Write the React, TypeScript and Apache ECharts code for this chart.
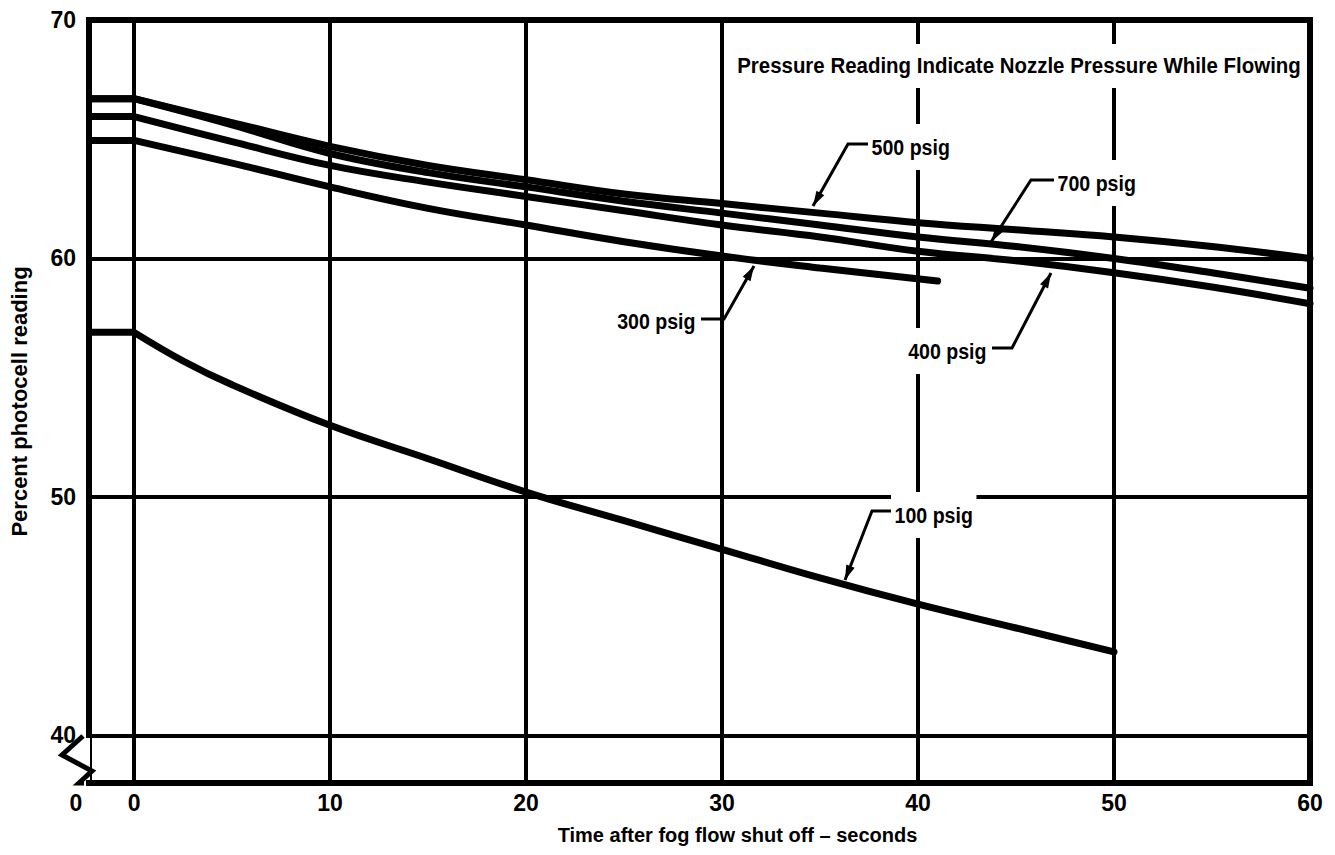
import React, { useEffect, useRef } from "react";
import * as echarts from "echarts";

// ---- data ----
const xLeftEdge = -2.3; // pre-shut-off region left edge
const times = [-2.3, 0, 5, 10, 15, 20, 25, 30, 35, 40, 45, 50, 55, 60];
const p500 = [66.7, 66.7, 65.7, 64.7, 63.9, 63.3, 62.7, 62.3, 61.9, 61.5, 61.2, 60.9, 60.5, 60.0];
const p700 = [66.7, 66.7, 65.6, 64.4, 63.6, 63.0, 62.4, 61.9, 61.4, 60.9, 60.5, 60.0, 59.4, 58.75];
const p400 = [65.95, 65.95, 64.9, 63.9, 63.2, 62.6, 62.0, 61.4, 60.9, 60.3, 59.9, 59.4, 58.8, 58.1];
const times300 = [-2.3, 0, 5, 10, 15, 20, 25, 30, 35, 41];
const p300 = [64.95, 64.95, 64.0, 63.0, 62.1, 61.4, 60.7, 60.1, 59.6, 59.05];
const times100 = [-2.3, 0, 2.5, 5, 10, 15, 20, 25, 30, 35, 40, 45, 50];
const p100 = [56.9, 56.9, 55.7, 54.7, 53.0, 51.6, 50.2, 49.0, 47.8, 46.6, 45.5, 44.5, 43.5];

const yMin = 38;
const yMax = 70;
const xMax = 60;

const seriesNames = ["500 psig", "700 psig", "400 psig", "300 psig", "100 psig"];
const noteText = "Pressure Reading Indicate Nozzle Pressure While Flowing";
const xTitle = "Time after fog flow shut off \u2013 seconds";
const yTitle = "Percent photocell reading";

const FONT = "'Liberation Sans', Arial, sans-serif";

type Pt = [number, number];
const annotations: { text: string; tx: number; ty: number; align: "left" | "right"; hook: Pt; elbow: Pt; tip: Pt }[] = [
  { text: "500 psig", tx: 868, ty: 147, align: "left", hook: [868, 144], elbow: [848, 144], tip: [813, 206] },
  { text: "700 psig", tx: 1054, ty: 183, align: "left", hook: [1054, 180], elbow: [1031, 180], tip: [991, 242] },
  { text: "400 psig", tx: 990, ty: 351, align: "right", hook: [992, 348], elbow: [1012, 348], tip: [1051, 273] },
  { text: "300 psig", tx: 699, ty: 321, align: "right", hook: [701, 319], elbow: [724, 319], tip: [754, 266] },
  { text: "100 psig", tx: 891, ty: 515, align: "left", hook: [891, 511], elbow: [872, 511], tip: [845, 580] },
];

function zip(xs: number[], ys: number[]) {
  return xs.map((x, i) => [x, ys[i]]);
}

function arrowHead(from: Pt, tip: Pt) {
  const dx = tip[0] - from[0];
  const dy = tip[1] - from[1];
  const len = Math.hypot(dx, dy);
  const ux = dx / len;
  const uy = dy / len;
  const L = 15;
  const W = 4.5;
  const bx = tip[0] - ux * L;
  const by = tip[1] - uy * L;
  return [
    [tip[0], tip[1]],
    [bx - uy * W, by + ux * W],
    [bx + uy * W, by - ux * W],
  ];
}

export default function App() {
  const ref = useRef<HTMLDivElement>(null);
  useEffect(() => {
    if (!ref.current) return;
    const chart = echarts.init(ref.current, null, { renderer: "svg" });

    const all = [
      zip(times, p500),
      zip(times, p700),
      zip(times, p400),
      zip(times300, p300),
      zip(times100, p100),
    ];
    const lineSeries: any[] = [];
    all.forEach((d, i) => {
      // flat reading before shut-off (straight)
      lineSeries.push({
        name: seriesNames[i],
        type: "line",
        data: d.slice(0, 2),
        symbol: "none",
        lineStyle: { color: "#000", width: 7 },
        z: 3,
      });
      // decay after shut-off (smooth)
      lineSeries.push({
        name: seriesNames[i],
        type: "line",
        data: d.slice(1),
        symbol: "none",
        smooth: 0.4,
        lineStyle: { color: "#000", width: 7, cap: "round" },
        z: 3,
      });
    });

    const graphics: any[] = [];
    // break mark on the y axis
    graphics.push({
      type: "rect",
      shape: { x: 78, y: 738, width: 12, height: 42 },
      style: { fill: "#fff" },
      z: 100,
    });
    graphics.push({
      type: "polyline",
      shape: { points: [[83, 736], [62, 755], [92, 771], [79, 783], [84, 783]] },
      style: { stroke: "#000", lineWidth: 5, fill: null, lineJoin: "miter" },
      z: 101,
    });
    // note text
    graphics.push({
      type: "text",
      x: 1019,
      y: 66,
      scaleX: 0.93,
      style: {
        text: noteText,
        font: `bold 22px ${FONT}`,
        fill: "#000",
        align: "center",
        verticalAlign: "middle",
        backgroundColor: "#fff",
        padding: [11, 6],
      },
      z: 100,
    });
    annotations.forEach((a) => {
      graphics.push({
        type: "text",
        x: a.tx,
        y: a.ty,
        scaleX: 0.89,
        style: {
          text: a.text,
          font: `bold 22px ${FONT}`,
          fill: "#000",
          align: a.align,
          verticalAlign: "middle",
          backgroundColor: "#fff",
          padding: [12, 4],
        },
        z: 100,
      });
      graphics.push({
        type: "polyline",
        shape: { points: [a.hook, a.elbow, a.tip] },
        style: { stroke: "#000", lineWidth: 3, fill: null },
        z: 101,
      });
      graphics.push({
        type: "polygon",
        shape: { points: arrowHead(a.elbow, a.tip) },
        style: { fill: "#000" },
        z: 101,
      });
    });

    chart.setOption({
      animation: false,
      backgroundColor: "#fff",
      grid: {
        left: 83,
        right: 25,
        top: 20,
        bottom: 72,
        show: true,
        borderColor: "#000",
        borderWidth: 6,
        backgroundColor: "transparent",
      },
      xAxis: {
        type: "value",
        min: xLeftEdge,
        max: xMax,
        minInterval: 10,
        maxInterval: 10,
        name: xTitle,
        nameLocation: "middle",
        nameGap: 42,
        nameTextStyle: {
          fontFamily: FONT,
          fontSize: 20,
          fontWeight: "bold",
          color: "#000",
          padding: [0, 0, 0, 76],
        },
        axisLine: { show: false },
        axisTick: { show: false },
        axisLabel: {
          color: "#000",
          fontFamily: FONT,
          fontSize: 23,
          fontWeight: "bold",
          margin: 8,
          showMinLabel: true,
          showMaxLabel: true,
          formatter: (v: number) => (v < 0 ? "{l|0}" : String(Math.round(v))),
          rich: {
            l: {
              color: "#000",
              fontFamily: FONT,
              fontSize: 23,
              fontWeight: "bold",
              padding: [0, 26, 0, 0],
            },
          },
        },
        splitLine: { show: true, lineStyle: { color: "#000", width: 4 } },
      },
      yAxis: {
        type: "value",
        min: yMin,
        max: yMax,
        minInterval: 10,
        maxInterval: 10,
        name: yTitle,
        nameLocation: "middle",
        nameGap: 59,
        nameRotate: 90,
        nameTextStyle: { fontFamily: FONT, fontSize: 22, fontWeight: "bold", color: "#000" },
        axisLine: { show: false },
        axisTick: { show: false },
        axisLabel: {
          color: "#000",
          fontFamily: FONT,
          fontSize: 23,
          fontWeight: "bold",
          margin: 13,
          formatter: (v: number) => (v % 10 === 0 ? String(v) : ""),
        },
        splitLine: { show: true, lineStyle: { color: "#000", width: 4 } },
      },
      series: lineSeries,
      graphic: { elements: graphics },
    });

    return () => chart.dispose();
  }, []);

  return (
    <div
      ref={ref}
      style={{ position: "absolute", left: 0, top: 0, width: 1335, height: 855, background: "#fff" }}
    />
  );
}
